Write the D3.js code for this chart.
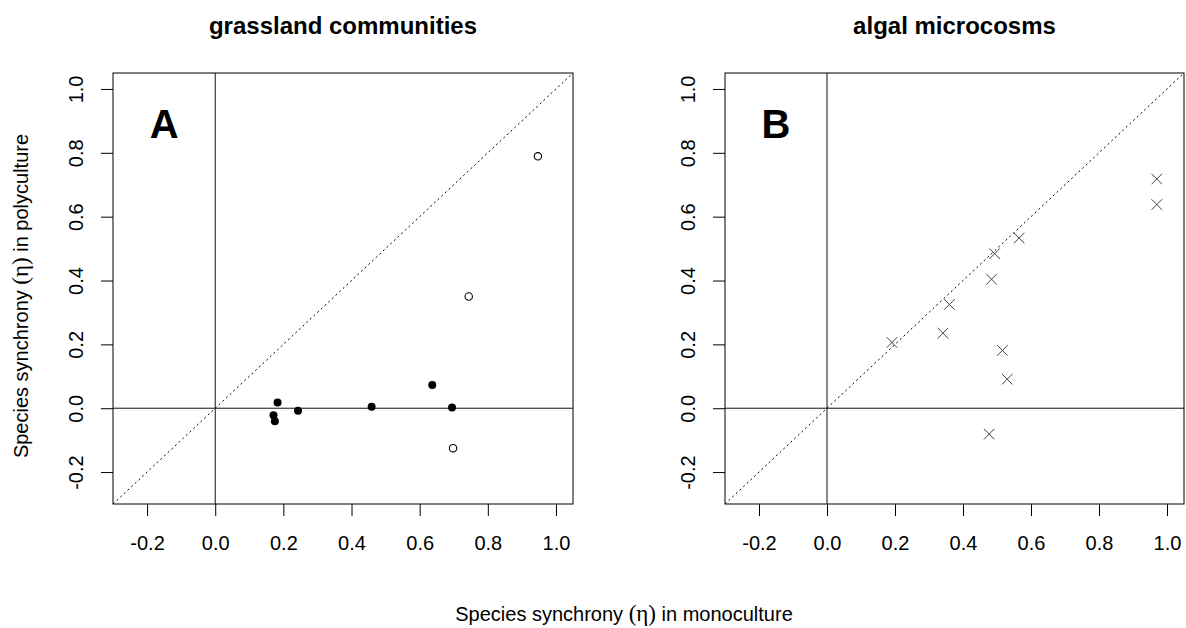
<!DOCTYPE html>
<html>
<head>
<meta charset="utf-8">
<title>Species synchrony</title>
<script src="https://cdn.jsdelivr.net/npm/d3@7"></script>
<style>
  body { margin: 0; background: #fff; }
  svg { display: block; font-family: "Liberation Sans", Arial, sans-serif; }
</style>
</head>
<body>
<div id="container"></div>
<script>
  // Values.
  const tickValues = [-0.2, 0.0, 0.2, 0.4, 0.6, 0.8, 1.0];
  const domain = [-0.3, 1.05];

  // Panel A: grassland communities
  const grassFilledMono = [0.183, 0.171, 0.175, 0.243, 0.459, 0.637, 0.695];
  const grassFilledPoly = [0.018, -0.022, -0.041, -0.008, 0.005, 0.073, 0.002];
  const grassOpenMono = [0.947, 0.744, 0.698];
  const grassOpenPoly = [0.789, 0.350, -0.125];

  // Panel B: algal microcosms
  const algalMono = [0.970, 0.970, 0.565, 0.493, 0.484, 0.360, 0.341, 0.191, 0.516, 0.530, 0.477];
  const algalPoly = [0.718, 0.638, 0.533, 0.484, 0.404, 0.325, 0.235, 0.206, 0.181, 0.091, -0.081];

  const width = 1186;
  const height = 628;
  const plotTop = 73, plotBottom = 504;
  const panels = [
    { left: 113, right: 573, title: "grassland communities", letter: "A" },
    { left: 725, right: 1184, title: "algal microcosms", letter: "B" }
  ];

  const svg = d3.create("svg")
      .attr("width", width)
      .attr("height", height);

  const fmt = d => d.toFixed(1);

  panels.forEach((p, i) => {
    const x = d3.scaleLinear().domain(domain).range([p.left, p.right]);
    const y = d3.scaleLinear().domain(domain).range([plotBottom, plotTop]);
    const g = svg.append("g");

    // title
    g.append("text")
        .attr("x", (p.left + p.right) / 2)
        .attr("y", 34)
        .attr("text-anchor", "middle")
        .attr("font-weight", "bold")
        .attr("font-size", 24)
        .text(p.title);

    // x axis
    const xa = g.append("g")
        .attr("transform", `translate(0,${plotBottom})`)
        .call(d3.axisBottom(x).tickValues(tickValues).tickFormat(fmt).tickSize(12));
    xa.select(".domain").remove();
    xa.attr("font-family", null).attr("font-size", null);
    xa.selectAll(".tick text")
        .attr("y", 46).attr("dy", null)
        .attr("font-size", 20).attr("fill", "#000");
    xa.selectAll(".tick line").attr("stroke", "#000");

    // y axis, labels parallel to axis
    const ya = g.append("g")
        .attr("transform", `translate(${p.left},0)`)
        .call(d3.axisLeft(y).tickValues(tickValues).tickFormat(fmt).tickSize(12));
    ya.select(".domain").remove();
    ya.attr("font-family", null).attr("font-size", null);
    ya.selectAll(".tick text")
        .attr("x", null).attr("dy", null)
        .attr("text-anchor", "middle")
        .attr("transform", "translate(-30,0) rotate(-90)")
        .attr("font-size", 20).attr("fill", "#000");
    ya.selectAll(".tick line").attr("stroke", "#000");

    // reference lines
    g.append("line")
        .attr("x1", x(domain[0])).attr("y1", y(domain[0]))
        .attr("x2", x(domain[1])).attr("y2", y(domain[1]))
        .attr("stroke", "#000").attr("stroke-width", 1)
        .attr("stroke-dasharray", "2,3");
    g.append("line")
        .attr("x1", x(0)).attr("x2", x(0))
        .attr("y1", plotTop).attr("y2", plotBottom)
        .attr("stroke", "#111");
    g.append("line")
        .attr("x1", p.left).attr("x2", p.right)
        .attr("y1", y(0)).attr("y2", y(0))
        .attr("stroke", "#111");

    // box
    g.append("rect")
        .attr("x", p.left).attr("y", plotTop)
        .attr("width", p.right - p.left).attr("height", plotBottom - plotTop)
        .attr("fill", "none").attr("stroke", "#000");

    // panel letter
    g.append("text")
        .attr("x", x(-0.15))
        .attr("y", y(0.893))
        .attr("dy", "0.36em")
        .attr("text-anchor", "middle")
        .attr("font-weight", "bold")
        .attr("font-size", 40)
        .text(p.letter);

    if (i === 0) {
      g.append("g").selectAll("circle")
        .data(d3.range(grassFilledMono.length))
        .join("circle")
          .attr("cx", k => x(grassFilledMono[k]))
          .attr("cy", k => y(grassFilledPoly[k]))
          .attr("r", 4)
          .attr("fill", "#000");
      g.append("g").selectAll("circle")
        .data(d3.range(grassOpenMono.length))
        .join("circle")
          .attr("cx", k => x(grassOpenMono[k]))
          .attr("cy", k => y(grassOpenPoly[k]))
          .attr("r", 3.7)
          .attr("fill", "#fff")
          .attr("stroke", "#000")
          .attr("stroke-width", 1.1);
    } else {
      const s = 5.3;
      g.append("g").selectAll("path")
        .data(d3.range(algalMono.length))
        .join("path")
          .attr("d", k => {
            const cx = x(algalMono[k]), cy = y(algalPoly[k]);
            return `M${cx - s},${cy - s}L${cx + s},${cy + s}M${cx - s},${cy + s}L${cx + s},${cy - s}`;
          })
          .attr("stroke", "#444")
          .attr("stroke-width", 1)
          .attr("fill", "none");
    }
  });

  // shared axis titles
  const xt = svg.append("text")
      .attr("x", 624)
      .attr("y", 621)
      .attr("text-anchor", "middle")
      .attr("font-size", 20);
  xt.append("tspan").text("Species synchrony ");
  xt.append("tspan").attr("font-family", "'Liberation Serif', serif").attr("font-size", 23).text("(η)");
  xt.append("tspan").text(" in monoculture");

  const yt = svg.append("text")
      .attr("transform", "translate(28,296) rotate(-90)")
      .attr("text-anchor", "middle")
      .attr("font-size", 20);
  yt.append("tspan").text("Species synchrony ");
  yt.append("tspan").attr("font-family", "'Liberation Serif', serif").attr("font-size", 23).text("(η)");
  yt.append("tspan").text(" in polyculture");

  document.getElementById("container").append(svg.node());
</script>
</body>
</html>
